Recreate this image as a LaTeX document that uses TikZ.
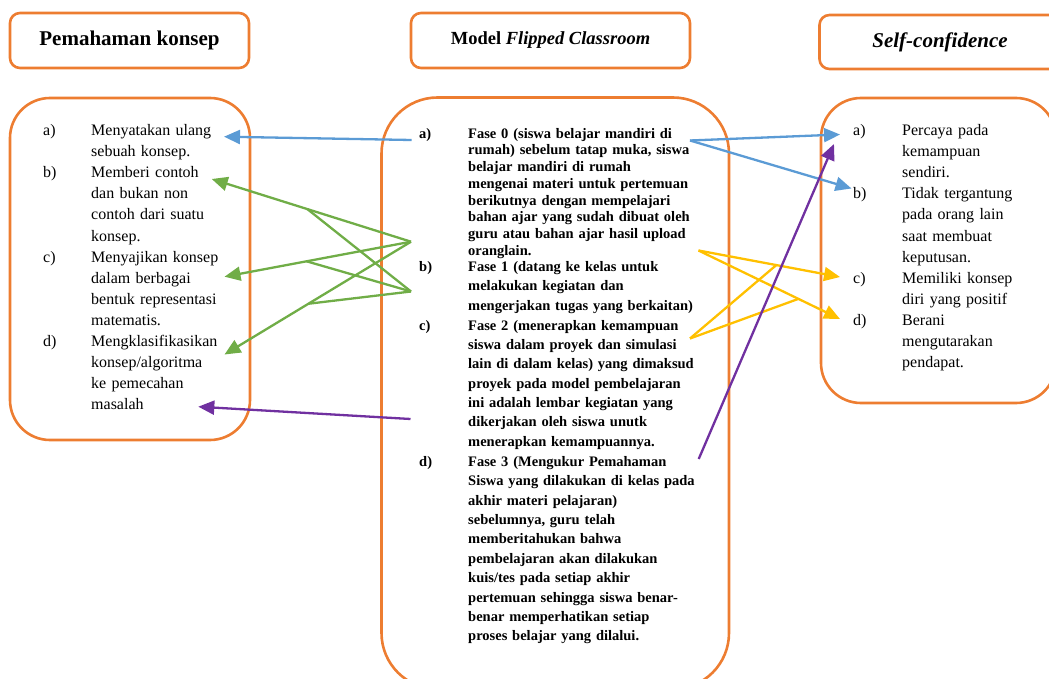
\documentclass[tikz,border=0pt]{standalone}
\usepackage{fontspec}
\setmainfont{Liberation Serif}
\usetikzlibrary{arrows.meta,calc}
\definecolor{boxorange}{HTML}{ED7D31}
\definecolor{arrblue}{HTML}{5B9BD5}
\definecolor{arrgreen}{HTML}{70AD47}
\definecolor{arryellow}{HTML}{FFC000}
\definecolor{arrpurple}{HTML}{7030A0}
\begin{document}
\begin{tikzpicture}[x=1pt,y=-1pt,
  frame/.style={draw=boxorange,line width=2.6pt,inner sep=0pt,outer sep=0pt},
  headbox/.style={frame,rounded corners=10pt},
  bodybox/.style={frame,rounded corners=#1},
  lbl/.style={anchor=base west,inner sep=0pt,font=\fontsize{16}{21.1}\selectfont},
  itm/.style={anchor=base west,inner sep=0pt,text width=220pt,align=left,font=\fontsize{16}{21.1}\selectfont},
  mlbl/.style={anchor=base west,inner sep=0pt,font=\fontsize{14.5}{19.4}\selectfont\bfseries},
  mitm/.style={anchor=base west,inner sep=0pt,text width=260pt,align=left,font=\fontsize{14.5}{#1}\selectfont\bfseries},
  conn/.style={line width=2.3pt,draw=#1},
  tip/.style={conn=#1,-{Triangle[length=16pt,width=14pt]}}
]
\useasboundingbox (0,0) rectangle (1049,679);
\clip (0,0) rectangle (1049,679);

% header boxes
\node[headbox,minimum width=239pt,minimum height=55pt,font=\fontsize{21}{25}\selectfont\bfseries] (h1) at (129.5,40.5) {Pemahaman konsep};
\node[headbox,minimum width=279pt,minimum height=55pt,font=\fontsize{18.5}{22}\selectfont\bfseries] (h2) at (550.5,40.5) {Model \textit{Flipped Classroom}};
\node[headbox,minimum width=241pt,minimum height=54pt,font=\fontsize{21}{25}\selectfont\bfseries\itshape] (h3) at (940,42) {Self-confidence};

% body boxes
\node[bodybox=40pt,minimum width=240pt,minimum height=342pt] (b1) at (130,269) {};
\node[bodybox=56pt,minimum width=347.5pt,minimum height=591.5pt] (b2) at (555.25,393.25) {};
\node[bodybox=40pt,minimum width=235pt,minimum height=305pt] (b3) at (938.5,250.5) {};

% left items
\node[lbl] (la-l) at (43,135.6) {a)};
\node[itm] (la) at (91,135.6) {Menyatakan ulang\\sebuah konsep.};
\node[lbl] (lb-l) at (43,177.8) {b)};
\node[itm] (lb) at (91,177.8) {Memberi contoh\\dan bukan non\\contoh dari suatu\\konsep.};
\node[lbl] (lc-l) at (43,262.2) {c)};
\node[itm] (lc) at (91,262.2) {Menyajikan konsep\\dalam berbagai\\bentuk representasi\\matematis.};
\node[lbl] (ld-l) at (43,346.6) {d)};
\node[itm] (ld) at (91,346.6) {Mengklasifikasikan\\konsep/algoritma\\ke pemecahan\\masalah};

% middle items
\node[mlbl] (ma-l) at (419,138.3) {a)};
\node[mitm=16.7] (ma) at (468,138.3) {Fase 0 (siswa belajar mandiri di\\rumah) sebelum tatap muka, siswa\\belajar mandiri di rumah\\mengenai materi untuk pertemuan\\berikutnya dengan mempelajari\\bahan ajar yang sudah dibuat oleh\\guru atau bahan ajar hasil upload\\oranglain.};
\node[mlbl] (mb-l) at (419,271.3) {b)};
\node[mitm=19.5] (mb) at (468,271.3) {Fase 1 (datang ke kelas untuk\\melakukan kegiatan dan\\mengerjakan tugas yang berkaitan)};
\node[mlbl] (mc-l) at (419,330.3) {c)};
\node[mitm=19.3] (mc) at (468,330.3) {Fase 2 (menerapkan kemampuan\\siswa dalam proyek dan simulasi\\lain di dalam kelas) yang dimaksud\\proyek pada model pembelajaran\\ini adalah lembar kegiatan yang\\dikerjakan oleh siswa unutk\\menerapkan kemampuannya.};
\node[mlbl] (md-l) at (419,466.3) {d)};
\node[mitm=19.4] (md) at (468,466.3) {Fase 3 (Mengukur Pemahaman\\Siswa yang dilakukan di kelas pada\\akhir materi pelajaran)\\sebelumnya, guru telah\\memberitahukan bahwa\\pembelajaran akan dilakukan\\kuis/tes pada setiap akhir\\pertemuan sehingga siswa benar-\\benar memperhatikan setiap\\proses belajar yang dilalui.};

% right items
\node[lbl] (ra-l) at (853,135.6) {a)};
\node[itm] (ra) at (902,135.6) {Percaya pada\\kemampuan\\sendiri.};
\node[lbl] (rb-l) at (853,198.9) {b)};
\node[itm] (rb) at (902,198.9) {Tidak tergantung\\pada orang lain\\saat membuat\\keputusan.};
\node[lbl] (rc-l) at (853,283.3) {c)};
\node[itm] (rc) at (902,283.3) {Memiliki konsep\\diri yang positif};
\node[lbl] (rd-l) at (853,325.6) {d)};
\node[itm] (rd) at (902,325.6) {Berani\\mengutarakan\\pendapat.};

% connector end points
\coordinate (bL0) at (411.7,140);
\coordinate (bLt) at (224,136.7);
\coordinate (bR0) at (690,140.5);
\coordinate (bRa) at (840,134.5);
\coordinate (bRb) at (851.5,188.5);
\coordinate (g0) at (411,241.7);
\coordinate (g1) at (411,291.5);
\coordinate (gb) at (211.7,179);
\coordinate (gc) at (224.5,276.7);
\coordinate (gd) at (224.5,354.5);
\coordinate (y0) at (698.5,250.5);
\coordinate (y2) at (690,338.5);
\coordinate (yc) at (840,277);
\coordinate (yd) at (840,319);
\coordinate (p0) at (410.5,419);
\coordinate (pt) at (198.3,406.7);
\coordinate (p1) at (698.7,459);
\coordinate (pa) at (834,144);
\coordinate (jb) at ($(g0)!0.52!(gb)$);
\coordinate (jc) at ($(g0)!0.56!(gc)$);
\coordinate (jd) at ($(g0)!0.55!(gd)$);
\coordinate (jyc) at ($(y0)!0.55!(yc)$);
\coordinate (jyd) at ($(y0)!0.706!(yd)$);

% blue
\draw[tip=arrblue] (bL0) -- (bLt);
\draw[tip=arrblue] (bR0) -- (bRa);
\draw[tip=arrblue] (bR0) -- (bRb);
% green
\draw[tip=arrgreen] (g0) -- (gb);
\draw[tip=arrgreen] (g0) -- (gc);
\draw[tip=arrgreen] (g0) -- (gd);
\draw[conn=arrgreen] (g1) -- (jb);
\draw[conn=arrgreen] (g1) -- (jc);
\draw[conn=arrgreen] (g1) -- (jd);
% yellow
\draw[tip=arryellow] (y0) -- (yc);
\draw[tip=arryellow] (y0) -- (yd);
\draw[conn=arryellow] (y2) -- (jyc);
\draw[conn=arryellow] (y2) -- (jyd);
% purple
\draw[tip=arrpurple] (p0) -- (pt);
\draw[tip=arrpurple] (p1) -- (pa);
\end{tikzpicture}
\end{document}
